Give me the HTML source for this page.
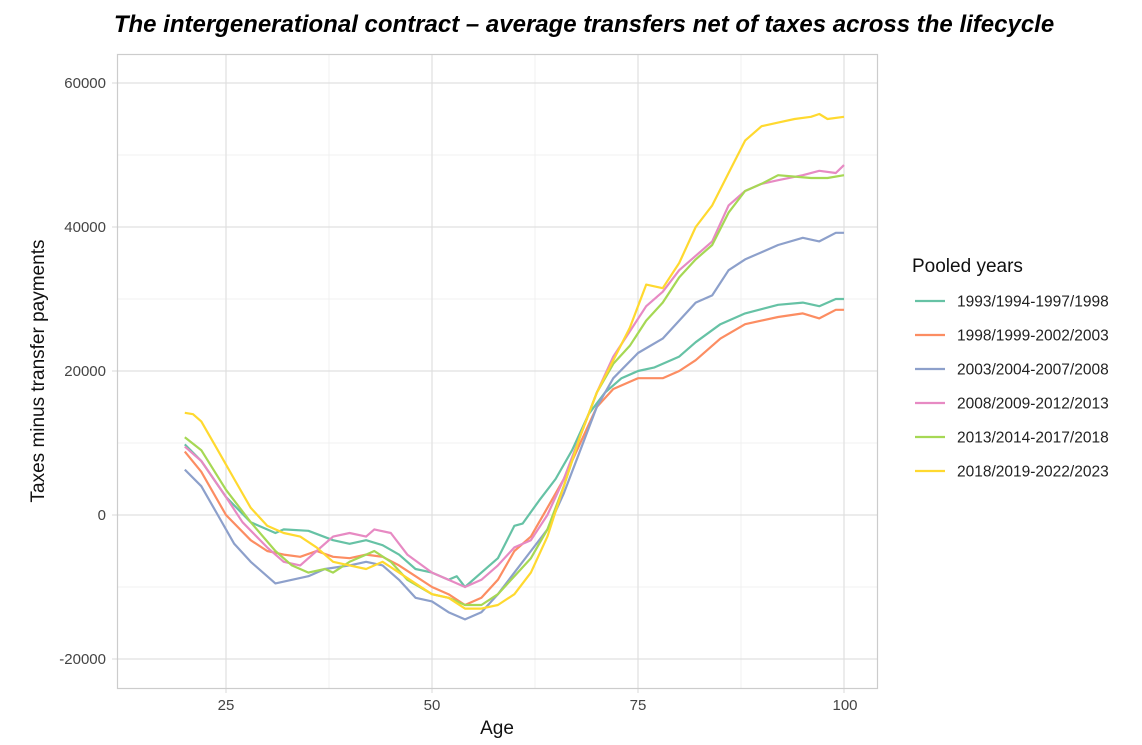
<!DOCTYPE html>
<html><head><meta charset="utf-8"><style>
body{margin:0;background:#fff;width:1142px;height:740px;overflow:hidden;font-family:"Liberation Sans",sans-serif}
</style></head><body>
<svg id="s" width="1142" height="740" xmlns="http://www.w3.org/2000/svg" font-family="Liberation Sans, sans-serif">
<text x="584" y="32" text-anchor="middle" font-size="24" font-weight="bold" font-style="italic" fill="#000">The intergenerational contract – average transfers net of taxes across the lifecycle</text>
<g id="grid"></g>
<rect x="117.5" y="54.5" width="760" height="634" fill="none" stroke="#ccc" stroke-width="1.2"/>
<g font-size="15" fill="#444" text-anchor="end">
<text x="106" y="88">60000</text><text x="106" y="232">40000</text><text x="106" y="376">20000</text><text x="106" y="520">0</text><text x="106" y="664">-20000</text>
</g>
<g font-size="15" fill="#444" text-anchor="middle">
<text x="226" y="710">25</text><text x="432" y="710">50</text><text x="638" y="710">75</text><text x="845" y="710">100</text>
</g>
<text x="497" y="734" text-anchor="middle" font-size="19" fill="#111">Age</text>
<text transform="translate(44,371) rotate(-90)" text-anchor="middle" font-size="19" fill="#111">Taxes minus transfer payments</text>
<g id="lines" fill="none" stroke-width="2.2" stroke-linejoin="round"></g>
<text x="912" y="272" font-size="19" fill="#111">Pooled years</text>
<g id="leg" font-size="15.5" fill="#222"></g>
</svg>
<script>
var X=a=>226+(a-25)*8.24, Y=v=>515-v*0.0072;
var g=document.getElementById('grid'),h='';
[50000,30000,10000,-10000].forEach(v=>h+='<line x1="118" x2="877" y1="'+Y(v)+'" y2="'+Y(v)+'" stroke="#f0f0f0" stroke-width="1"/>');
[37.5,62.5,87.5].forEach(a=>h+='<line y1="55" y2="688" x1="'+X(a)+'" x2="'+X(a)+'" stroke="#f0f0f0" stroke-width="1"/>');
[60000,40000,20000,0,-20000].forEach(v=>h+='<line x1="112" x2="877" y1="'+Y(v)+'" y2="'+Y(v)+'" stroke="#e0e0e0" stroke-width="1.2"/>');
[25,50,75,100].forEach(a=>h+='<line y1="55" y2="693" x1="'+X(a)+'" x2="'+X(a)+'" stroke="#e0e0e0" stroke-width="1.2"/>');
g.innerHTML=h;
var S=[
["#66c2a5","1993/1994-1997/1998",[20,9800,22,7500,25,2500,28,-1000,31,-2500,32,-2000,35,-2200,38,-3500,40,-4000,42,-3500,44,-4200,46,-5500,48,-7500,50,-8000,52,-9000,53,-8500,54,-10000,56,-8000,58,-6000,60,-1500,61,-1200,63,2000,65,5000,67,9000,69,14000,71,17000,73,19000,75,20000,77,20500,80,22000,82,24000,85,26500,88,28000,92,29200,95,29500,97,29000,99,30000,100,30000]],
["#fc8d62","1998/1999-2002/2003",[20,8800,22,6000,25,0,28,-3500,30,-5000,32,-5500,34,-5800,36,-5000,38,-5800,40,-6000,42,-5500,44,-5800,46,-7000,48,-8500,50,-10000,52,-11000,54,-12500,56,-11500,58,-9000,60,-5000,62,-3000,64,1000,66,5000,68,10000,70,15000,72,17500,75,19000,78,19000,80,20000,82,21500,85,24500,88,26500,92,27500,95,28000,97,27300,99,28500,100,28500]],
["#8da0cb","2003/2004-2007/2008",[20,6300,22,4000,24,0,26,-4000,28,-6500,31,-9500,33,-9000,35,-8500,37,-7500,40,-7000,42,-6500,44,-7000,46,-9000,48,-11500,50,-12000,52,-13500,54,-14500,56,-13500,58,-11000,60,-8000,62,-5000,64,-2000,66,3000,68,9000,70,15000,72,19000,75,22500,78,24500,80,27000,82,29500,84,30500,86,34000,88,35500,90,36500,92,37500,95,38500,97,38000,99,39200,100,39200]],
["#e78ac3","2008/2009-2012/2013",[20,9500,22,7500,25,2500,27,-1000,30,-4500,32,-6500,34,-7000,36,-5000,38,-3000,40,-2500,42,-3000,43,-2000,45,-2500,47,-5500,50,-8000,52,-9000,54,-10000,56,-9000,58,-7000,60,-4500,62,-3500,64,0,66,5000,68,11000,70,17000,72,22000,74,25500,76,29000,78,31000,80,34000,82,36000,84,38000,86,43000,88,45000,90,46000,92,46500,95,47200,97,47800,99,47500,100,48600]],
["#a6d854","2013/2014-2017/2018",[20,10800,22,9000,25,3500,28,-1000,31,-5000,33,-7000,35,-8000,37,-7500,38,-8000,40,-6500,42,-5500,43,-5000,45,-6500,47,-9000,50,-11000,52,-11500,54,-12500,56,-12500,58,-11000,60,-8500,62,-6000,64,-2000,66,4000,68,11000,70,17000,72,21000,74,23500,76,27000,78,29500,80,33000,82,35500,84,37500,86,42000,88,45000,90,46000,92,47200,94,47000,96,46800,98,46800,100,47200]],
["#ffd92f","2018/2019-2022/2023",[20,14200,21,14000,22,13000,24,9000,26,5000,28,1000,30,-1500,32,-2500,34,-3000,36,-4500,38,-6500,40,-7000,42,-7500,44,-6500,46,-8000,48,-9500,50,-11000,52,-11500,54,-13000,56,-13000,58,-12500,60,-11000,62,-8000,64,-3000,66,4000,68,11000,70,17000,72,21500,74,26000,76,32000,78,31500,80,35000,82,40000,84,43000,86,47500,88,52000,90,54000,92,54500,94,55000,96,55300,97,55700,98,55000,100,55300]]];
var L='',G='';
S.forEach((s,i)=>{var p=[];for(var j=0;j<s[2].length;j+=2)p.push(X(s[2][j]).toFixed(1)+','+Y(s[2][j+1]).toFixed(1));
L+='<polyline stroke="'+s[0]+'" points="'+p.join(' ')+'"/>';
var y=301+i*34;G+='<line x1="915" x2="945" y1="'+y+'" y2="'+y+'" stroke="'+s[0]+'" stroke-width="2.2"/><text x="957" y="'+(y+5.5)+'">'+s[1]+'</text>';});
document.getElementById('lines').innerHTML=L;document.getElementById('leg').innerHTML=G;
</script>
</body></html>
